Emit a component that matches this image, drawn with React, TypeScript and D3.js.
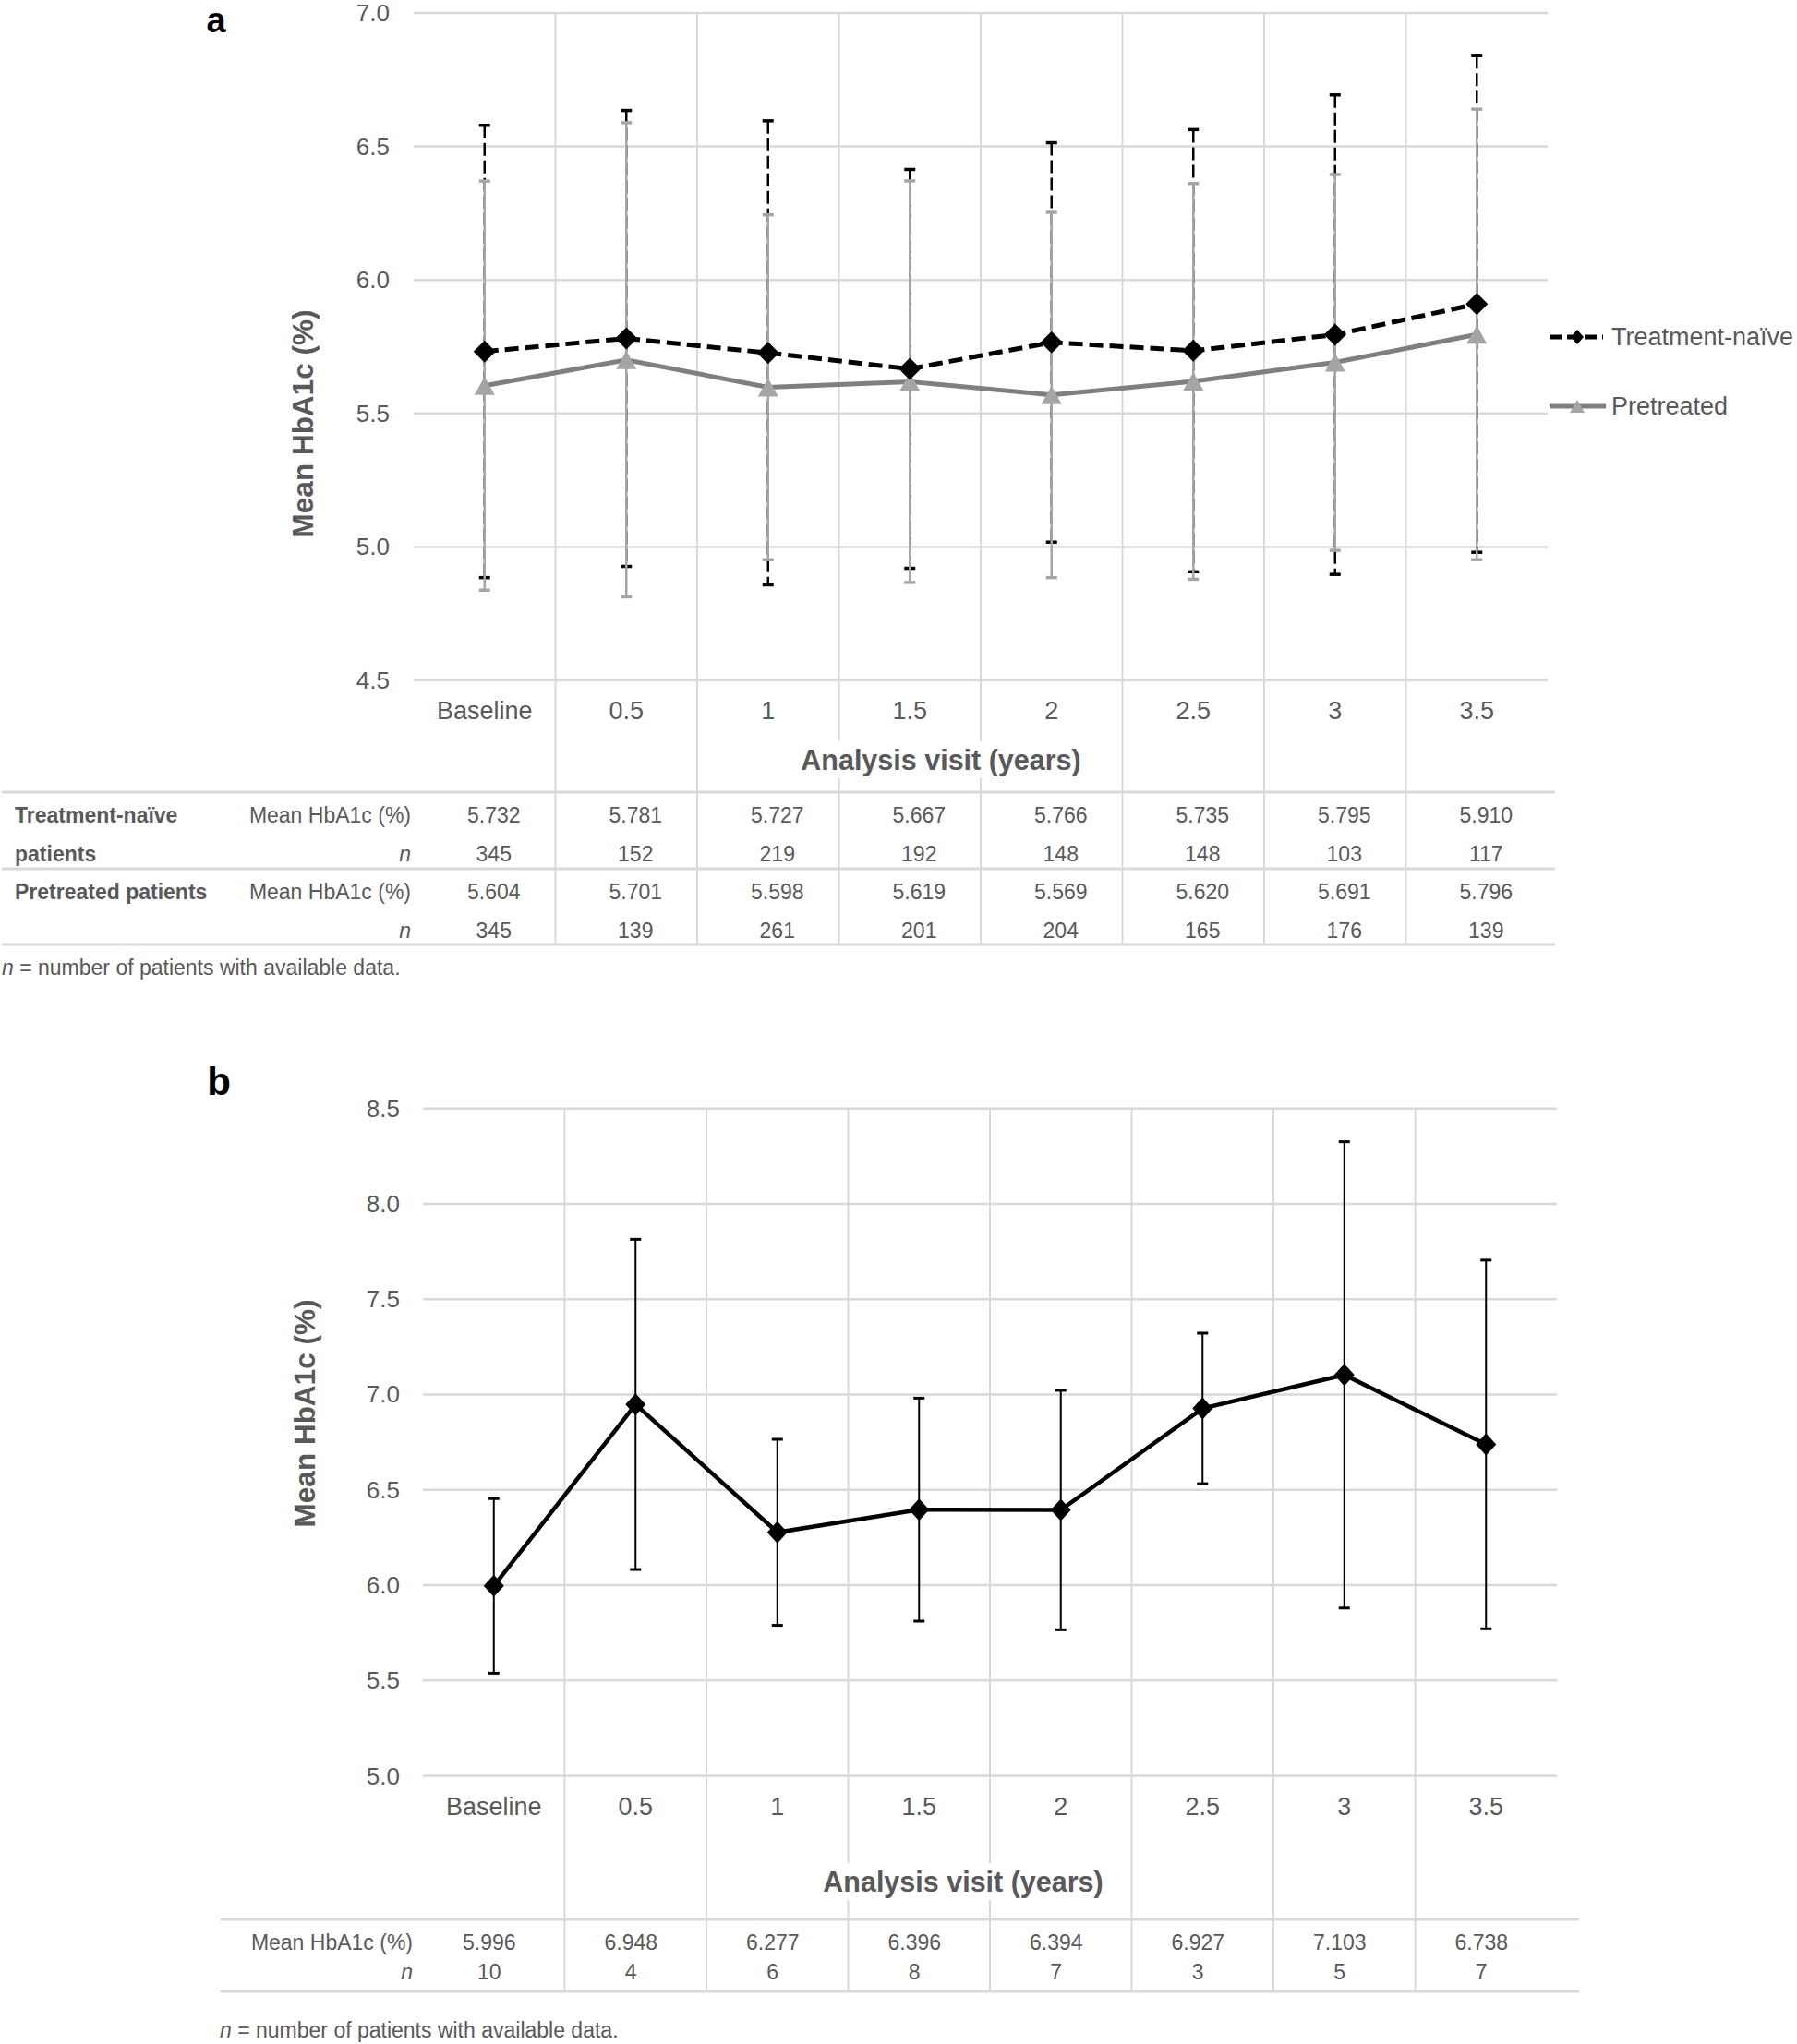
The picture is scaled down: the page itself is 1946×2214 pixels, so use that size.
import React from "react";
import * as d3 from "d3";

// ---------- data ----------
const categories = ["Baseline", "0.5", "1", "1.5", "2", "2.5", "3", "3.5"];

const naiveMean = [5.732, 5.781, 5.727, 5.667, 5.766, 5.735, 5.795, 5.91];
const naiveSD = [0.847, 0.854, 0.869, 0.747, 0.748, 0.828, 0.898, 0.93];
const naiveN = [345, 152, 219, 192, 148, 148, 103, 117];

const pretreatedMean = [5.604, 5.701, 5.598, 5.619, 5.569, 5.62, 5.691, 5.796];
const pretreatedSD = [0.766, 0.888, 0.646, 0.752, 0.684, 0.741, 0.704, 0.844];
const pretreatedN = [345, 139, 261, 201, 204, 165, 176, 139];

const bMean = [5.996, 6.948, 6.277, 6.396, 6.394, 6.927, 7.103, 6.738];
const bSD = [0.458, 0.866, 0.488, 0.585, 0.628, 0.395, 1.223, 0.967];
const bN = [10, 4, 6, 8, 7, 3, 5, 7];

const yTicksA = [4.5, 5.0, 5.5, 6.0, 6.5, 7.0];
const yTicksB = [5.0, 5.5, 6.0, 6.5, 7.0, 7.5, 8.0, 8.5];

const seriesNames = ["Treatment-naïve", "Pretreated"];

// ---------- style ----------
const FONT = "'Liberation Sans', Arial, Helvetica, sans-serif";
const GRID = "#d9d9d9";
const TXT = "#595959";
const GRAY_LINE = "#7f7f7f";
const GRAY_MARK = "#a5a5a5";

const diamond = (w: number, h: number) => `M0,${-h}L${w},0L0,${h}L${-w},0Z`;
const triangle = (w: number, h: number) => `M0,${-h}L${w},${h}L${-w},${h}Z`;

function ErrorBars({ means, sds, cx, y, color, width, cap, dash }: any) {
  return (
    <g>
      {means.map((m: number, i: number) => {
        const x = cx(i);
        const y1 = y(m + sds[i]);
        const y0 = y(m - sds[i]);
        return (
          <g key={i}>
            <line x1={x} x2={x} y1={y1} y2={y0} stroke={color} strokeWidth={width} strokeDasharray={dash || undefined} />
            <line x1={x - cap} x2={x + cap} y1={y1} y2={y1} stroke={color} strokeWidth={width + 1} />
            <line x1={x - cap} x2={x + cap} y1={y0} y2={y0} stroke={color} strokeWidth={width + 1} />
          </g>
        );
      })}
    </g>
  );
}

function PanelA() {
  const x = d3.scaleBand<string>().domain(categories).range([448, 1676]);
  const y = d3.scaleLinear().domain([4.5, 7]).range([737, 14]);
  const cx = (i: number) => (x(categories[i]) as number) + x.bandwidth() / 2;
  const line = d3
    .line<number>()
    .x((_, i) => cx(i))
    .y((d) => y(d));
  const tableTop = 858;
  const tableMid = 941;
  const tableBottom = 1023;
  const rowY = [883, 925, 966, 1008];
  const valOff = 10;
  return (
    <g fontFamily={FONT}>
      {/* horizontal gridlines */}
      {yTicksA.map((t) => (
        <line key={t} x1={448} x2={1676} y1={y(t)} y2={y(t)} stroke={GRID} strokeWidth={2.5} />
      ))}
      {/* vertical column lines */}
      {categories.slice(1).map((c) => (
        <line key={c} x1={x(c)} x2={x(c)} y1={y(7)} y2={tableBottom} stroke={GRID} strokeWidth={2} />
      ))}
      {/* table borders */}
      {[tableTop, tableMid, tableBottom].map((yy) => (
        <line key={yy} x1={2} x2={1684} y1={yy} y2={yy} stroke={GRID} strokeWidth={3} />
      ))}
      {/* y tick labels */}
      {yTicksA.map((t) => (
        <text key={t} x={422} y={y(t)} textAnchor="end" dominantBaseline="central" fontSize={26} fill={TXT}>
          {t.toFixed(1)}
        </text>
      ))}
      {/* category labels */}
      {categories.map((c, i) => (
        <text key={c} x={cx(i)} y={770} textAnchor="middle" dominantBaseline="central" fontSize={27} fill={TXT}>
          {c}
        </text>
      ))}
      {/* axis titles */}
      <text
        transform={`translate(328,459) rotate(-90)`}
        textAnchor="middle"
        dominantBaseline="central"
        fontSize={31.5}
        fontWeight="bold"
        fill={TXT}
      >
        Mean HbA1c (%)
      </text>
      <rect x={860} y={803} width={318} height={40} fill="#fff" />
      <text x={1019} y={823} textAnchor="middle" dominantBaseline="central" fontSize={30.5} fontWeight="bold" fill={TXT}>
        Analysis visit (years)
      </text>
      <text x={234} y={35} textAnchor="middle" fontSize={38} fontWeight="bold" fill="#000">
        a
      </text>

      {/* error bars */}
      <ErrorBars means={naiveMean} sds={naiveSD} cx={cx} y={y} color="#000" width={2.5} cap={6} dash="14,5" />
      <ErrorBars means={pretreatedMean} sds={pretreatedSD} cx={cx} y={y} color={GRAY_MARK} width={2.5} cap={6} />

      {/* lines */}
      <path d={line(pretreatedMean) as string} fill="none" stroke={GRAY_LINE} strokeWidth={5} />
      <path d={line(naiveMean) as string} fill="none" stroke="#000" strokeWidth={5} strokeDasharray="15,7" />
      {pretreatedMean.map((m, i) => (
        <path key={i} d={triangle(11, 10)} transform={`translate(${cx(i)},${y(m)})`} fill={GRAY_MARK} />
      ))}
      {naiveMean.map((m, i) => (
        <path key={i} d={diamond(12, 12)} transform={`translate(${cx(i)},${y(m)})`} fill="#000" />
      ))}

      {/* legend */}
      <g>
        <line x1={1678} x2={1736} y1={365} y2={365} stroke="#000" strokeWidth={5} strokeDasharray="13,6" />
        <path d={diamond(7, 8)} transform="translate(1708,365)" fill="#000" />
        <text x={1745} y={365} dominantBaseline="central" fontSize={27} fill={TXT}>
          {seriesNames[0]}
        </text>
        <line x1={1678} x2={1739} y1={440} y2={440} stroke={GRAY_LINE} strokeWidth={5} />
        <path d={triangle(8, 7)} transform="translate(1708,440)" fill={GRAY_MARK} />
        <text x={1745} y={440} dominantBaseline="central" fontSize={27} fill={TXT}>
          {seriesNames[1]}
        </text>
      </g>

      {/* table */}
      <g fontSize={23} fill={TXT}>
        <text x={16} y={rowY[0]} dominantBaseline="central" fontWeight="bold">Treatment-naïve</text>
        <text x={16} y={rowY[1]} dominantBaseline="central" fontWeight="bold">patients</text>
        <text x={16} y={rowY[2]} dominantBaseline="central" fontWeight="bold">Pretreated patients</text>
        <text x={445} y={rowY[0]} dominantBaseline="central" textAnchor="end">Mean HbA1c (%)</text>
        <text x={445} y={rowY[1]} dominantBaseline="central" textAnchor="end" fontStyle="italic">n</text>
        <text x={445} y={rowY[2]} dominantBaseline="central" textAnchor="end">Mean HbA1c (%)</text>
        <text x={445} y={rowY[3]} dominantBaseline="central" textAnchor="end" fontStyle="italic">n</text>
        {naiveMean.map((v, i) => (
          <text key={"a" + i} x={cx(i) + valOff} y={rowY[0]} dominantBaseline="central" textAnchor="middle">{v.toFixed(3)}</text>
        ))}
        {naiveN.map((v, i) => (
          <text key={"b" + i} x={cx(i) + valOff} y={rowY[1]} dominantBaseline="central" textAnchor="middle">{v}</text>
        ))}
        {pretreatedMean.map((v, i) => (
          <text key={"c" + i} x={cx(i) + valOff} y={rowY[2]} dominantBaseline="central" textAnchor="middle">{v.toFixed(3)}</text>
        ))}
        {pretreatedN.map((v, i) => (
          <text key={"d" + i} x={cx(i) + valOff} y={rowY[3]} dominantBaseline="central" textAnchor="middle">{v}</text>
        ))}
        <text x={2} y={1048} dominantBaseline="central">
          <tspan fontStyle="italic">n</tspan> = number of patients with available data.
        </text>
      </g>
    </g>
  );
}

function PanelB() {
  const x = d3.scaleBand<string>().domain(categories).range([458, 1686]);
  const y = d3.scaleLinear().domain([5, 8.5]).range([1923.5, 1200.7]);
  const cx = (i: number) => (x(categories[i]) as number) + x.bandwidth() / 2;
  const line = d3
    .line<number>()
    .x((_, i) => cx(i))
    .y((d) => y(d));
  const tableTop = 2079;
  const tableBottom = 2157;
  const rowY = [2104, 2136];
  const valOff = -5;
  return (
    <g fontFamily={FONT}>
      {yTicksB.map((t) => (
        <line key={t} x1={458} x2={1686} y1={y(t)} y2={y(t)} stroke={GRID} strokeWidth={2.5} />
      ))}
      {categories.slice(1).map((c) => (
        <line key={c} x1={x(c)} x2={x(c)} y1={y(8.5)} y2={tableBottom} stroke={GRID} strokeWidth={2} />
      ))}
      {[tableTop, tableBottom].map((yy) => (
        <line key={yy} x1={239} x2={1710} y1={yy} y2={yy} stroke={GRID} strokeWidth={3} />
      ))}
      {yTicksB.map((t) => (
        <text key={t} x={433} y={y(t)} textAnchor="end" dominantBaseline="central" fontSize={26} fill={TXT}>
          {t.toFixed(1)}
        </text>
      ))}
      {categories.map((c, i) => (
        <text key={c} x={cx(i)} y={1957} textAnchor="middle" dominantBaseline="central" fontSize={27} fill={TXT}>
          {c}
        </text>
      ))}
      <text
        transform={`translate(330,1531) rotate(-90)`}
        textAnchor="middle"
        dominantBaseline="central"
        fontSize={31.5}
        fontWeight="bold"
        fill={TXT}
      >
        Mean HbA1c (%)
      </text>
      <rect x={884} y={2018} width={318} height={40} fill="#fff" />
      <text x={1043} y={2038} textAnchor="middle" dominantBaseline="central" fontSize={30.5} fontWeight="bold" fill={TXT}>
        Analysis visit (years)
      </text>
      <text x={237} y={1186} textAnchor="middle" fontSize={42} fontWeight="bold" fill="#000">
        b
      </text>

      <ErrorBars means={bMean} sds={bSD} cx={cx} y={y} color="#000" width={2} cap={6} />
      <path d={line(bMean) as string} fill="none" stroke="#000" strokeWidth={4.5} />
      {bMean.map((m, i) => (
        <path key={i} d={diamond(11, 12)} transform={`translate(${cx(i)},${y(m)})`} fill="#000" />
      ))}

      <g fontSize={23} fill={TXT}>
        <text x={447} y={rowY[0]} dominantBaseline="central" textAnchor="end">Mean HbA1c (%)</text>
        <text x={447} y={rowY[1]} dominantBaseline="central" textAnchor="end" fontStyle="italic">n</text>
        {bMean.map((v, i) => (
          <text key={"m" + i} x={cx(i) + valOff} y={rowY[0]} dominantBaseline="central" textAnchor="middle">{v.toFixed(3)}</text>
        ))}
        {bN.map((v, i) => (
          <text key={"n" + i} x={cx(i) + valOff} y={rowY[1]} dominantBaseline="central" textAnchor="middle">{v}</text>
        ))}
        <text x={238} y={2199} dominantBaseline="central">
          <tspan fontStyle="italic">n</tspan> = number of patients with available data.
        </text>
      </g>
    </g>
  );
}

export default function App() {
  return (
    <svg
      width={1946}
      height={2214}
      viewBox="0 0 1946 2214"
      style={{ position: "absolute", left: 0, top: 0, display: "block", background: "#fff" }}
    >
      <rect x={0} y={0} width={1946} height={2214} fill="#fff" />
      <PanelA />
      <PanelB />
    </svg>
  );
}
